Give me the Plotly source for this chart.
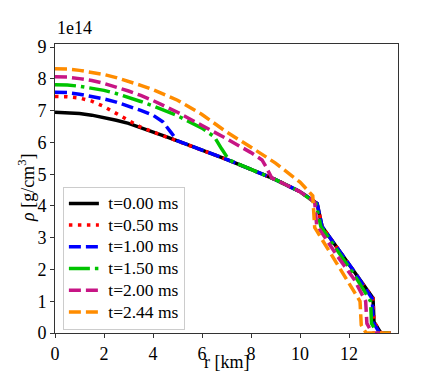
import plotly.graph_objects as go

# radius [km] and density [1e14 g/cm^3]
r_t000 = [0, 0.5, 1, 1.5, 2, 2.5, 3, 3.5, 4, 4.5, 5, 6, 7, 8, 9, 10, 10.7, 10.9, 11.5, 12.2, 12.98, 13.02, 13.3, 13.7]
rho_t000 = [6.95, 6.94, 6.91, 6.86, 6.79, 6.70, 6.60, 6.47, 6.33, 6.19, 6.05, 5.76, 5.47, 5.15, 4.83, 4.45, 4.08, 3.35, 2.70, 1.95, 1.10, 0.35, 0.0, 0.0]

r_t050 = [0, 0.5, 1, 1.5, 2, 2.5, 3, 3.5, 4, 4.5, 5, 6, 7, 8, 9, 10, 10.7, 10.9, 11.5, 12.2, 12.98, 13.02, 13.3, 13.7]
rho_t050 = [7.45, 7.44, 7.40, 7.30, 7.13, 6.92, 6.70, 6.48, 6.33, 6.19, 6.05, 5.76, 5.47, 5.15, 4.83, 4.45, 4.08, 3.35, 2.70, 1.95, 1.10, 0.35, 0.0, 0.0]

r_t100 = [0, 0.5, 1, 1.5, 2, 2.5, 3, 3.5, 4, 4.4, 4.75, 5.0, 6, 7, 8, 9, 10, 10.7, 10.9, 11.5, 12.2, 12.95, 12.99, 13.25, 13.7]
rho_t100 = [7.58, 7.57, 7.52, 7.45, 7.37, 7.27, 7.15, 7.01, 6.86, 6.65, 6.30, 6.05, 5.76, 5.47, 5.15, 4.83, 4.45, 4.08, 3.35, 2.70, 1.95, 1.08, 0.33, 0.0, 0.0]

r_t150 = [0, 0.5, 1, 1.5, 2, 2.5, 3, 3.5, 4, 5, 6, 6.5, 6.8, 7.1, 8, 9, 10, 10.65, 10.85, 11.5, 12.2, 12.88, 12.92, 13.15, 13.7]
rho_t150 = [7.82, 7.81, 7.77, 7.71, 7.64, 7.54, 7.42, 7.29, 7.15, 6.84, 6.45, 6.18, 5.80, 5.45, 5.15, 4.83, 4.45, 4.08, 3.35, 2.62, 1.85, 1.00, 0.30, 0.0, 0.0]

r_t200 = [0, 0.5, 1, 1.5, 2, 2.5, 3, 3.5, 4, 5, 6, 7, 8, 8.45, 8.6, 8.85, 9, 10, 10.6, 10.68, 11.5, 12.2, 12.68, 12.73, 12.95, 13.7]
rho_t200 = [8.07, 8.06, 8.01, 7.95, 7.86, 7.75, 7.62, 7.48, 7.32, 6.95, 6.55, 6.12, 5.68, 5.45, 5.25, 4.88, 4.83, 4.45, 4.12, 3.40, 2.45, 1.70, 1.00, 0.30, 0.0, 0.0]

r_t244 = [0, 0.5, 1, 1.5, 2, 2.5, 3, 3.5, 4, 5, 6, 7, 8, 9, 10, 10.52, 10.6, 11.5, 12.45, 12.5, 12.7, 13.7]
rho_t244 = [8.32, 8.31, 8.27, 8.21, 8.14, 8.04, 7.93, 7.80, 7.66, 7.33, 6.88, 6.33, 5.85, 5.35, 4.75, 4.32, 3.32, 2.20, 1.00, 0.25, 0.0, 0.0]

labels = ["t=0.00 ms", "t=0.50 ms", "t=1.00 ms", "t=1.50 ms", "t=2.00 ms", "t=2.44 ms"]
colors = ["#000000", "#ff0000", "#0000ff", "#00c400", "#c71585", "#ff8c00"]
dashes = ["solid", "3.5px,5.5px", "12px,5px", "21px,5px,3.5px,5px", "12px,5px", "12px,5px"]

x_ticks = [0, 2, 4, 6, 8, 10, 12]
y_ticks = [0, 1, 2, 3, 4, 5, 6, 7, 8, 9]

series = [(r_t000, rho_t000), (r_t050, rho_t050), (r_t100, rho_t100),
          (r_t150, rho_t150), (r_t200, rho_t200), (r_t244, rho_t244)]

FONT = "Liberation Serif"

fig = go.Figure()
for (rr, dd), lab, col, ds in zip(series, labels, colors, dashes):
    fig.add_trace(go.Scatter(x=rr, y=dd, mode="lines",
                             name='<span style="font-size:17.5px">&nbsp;' + lab + '</span>',
                             line=dict(color=col, width=3.5, dash=ds)))

# the page body has an 8px default margin, so the figure is shrunk by that offset
fig.update_layout(
    width=435, height=366,
    margin=dict(l=47, r=45, t=36, b=41, autoexpand=False),
    paper_bgcolor="white", plot_bgcolor="white",
    font=dict(family=FONT, size=18, color="black"),
    showlegend=True,
    legend=dict(x=0.023, y=0.012, xanchor="left", yanchor="bottom",
                bgcolor="rgba(255,255,255,0.8)", bordercolor="#cccccc", borderwidth=1,
                font=dict(family=FONT, size=14.4)),
    xaxis=dict(range=[0, 14], tickvals=x_ticks, showgrid=False, zeroline=False,
               showline=True, linecolor="#333333", linewidth=1, mirror=True,
               ticks="outside", ticklen=4, tickcolor="#333333", automargin=False),
    yaxis=dict(range=[0, 9.1], tickvals=y_ticks, showgrid=False, zeroline=False,
               showline=True, linecolor="#333333", linewidth=1, mirror=True,
               ticks="outside", ticklen=4, tickcolor="#333333", automargin=False),
    annotations=[
        dict(text="1e14", x=0, y=1, xref="paper", yref="paper",
             xanchor="left", yanchor="bottom", showarrow=False,
             font=dict(family=FONT, size=18), yshift=4),
        dict(text="<i>ρ</i> [g/cm<sup>3</sup>]", x=0, y=0.5, xref="paper", yref="paper",
             xanchor="right", yanchor="middle", textangle=-90, showarrow=False,
             font=dict(family=FONT, size=18), xshift=-15),
        dict(text="r [km]", x=0.5, y=0, xref="paper", yref="paper",
             xanchor="center", yanchor="top", showarrow=False,
             font=dict(family=FONT, size=18), yshift=-17),
    ],
)

fig.write_html("out.html")
